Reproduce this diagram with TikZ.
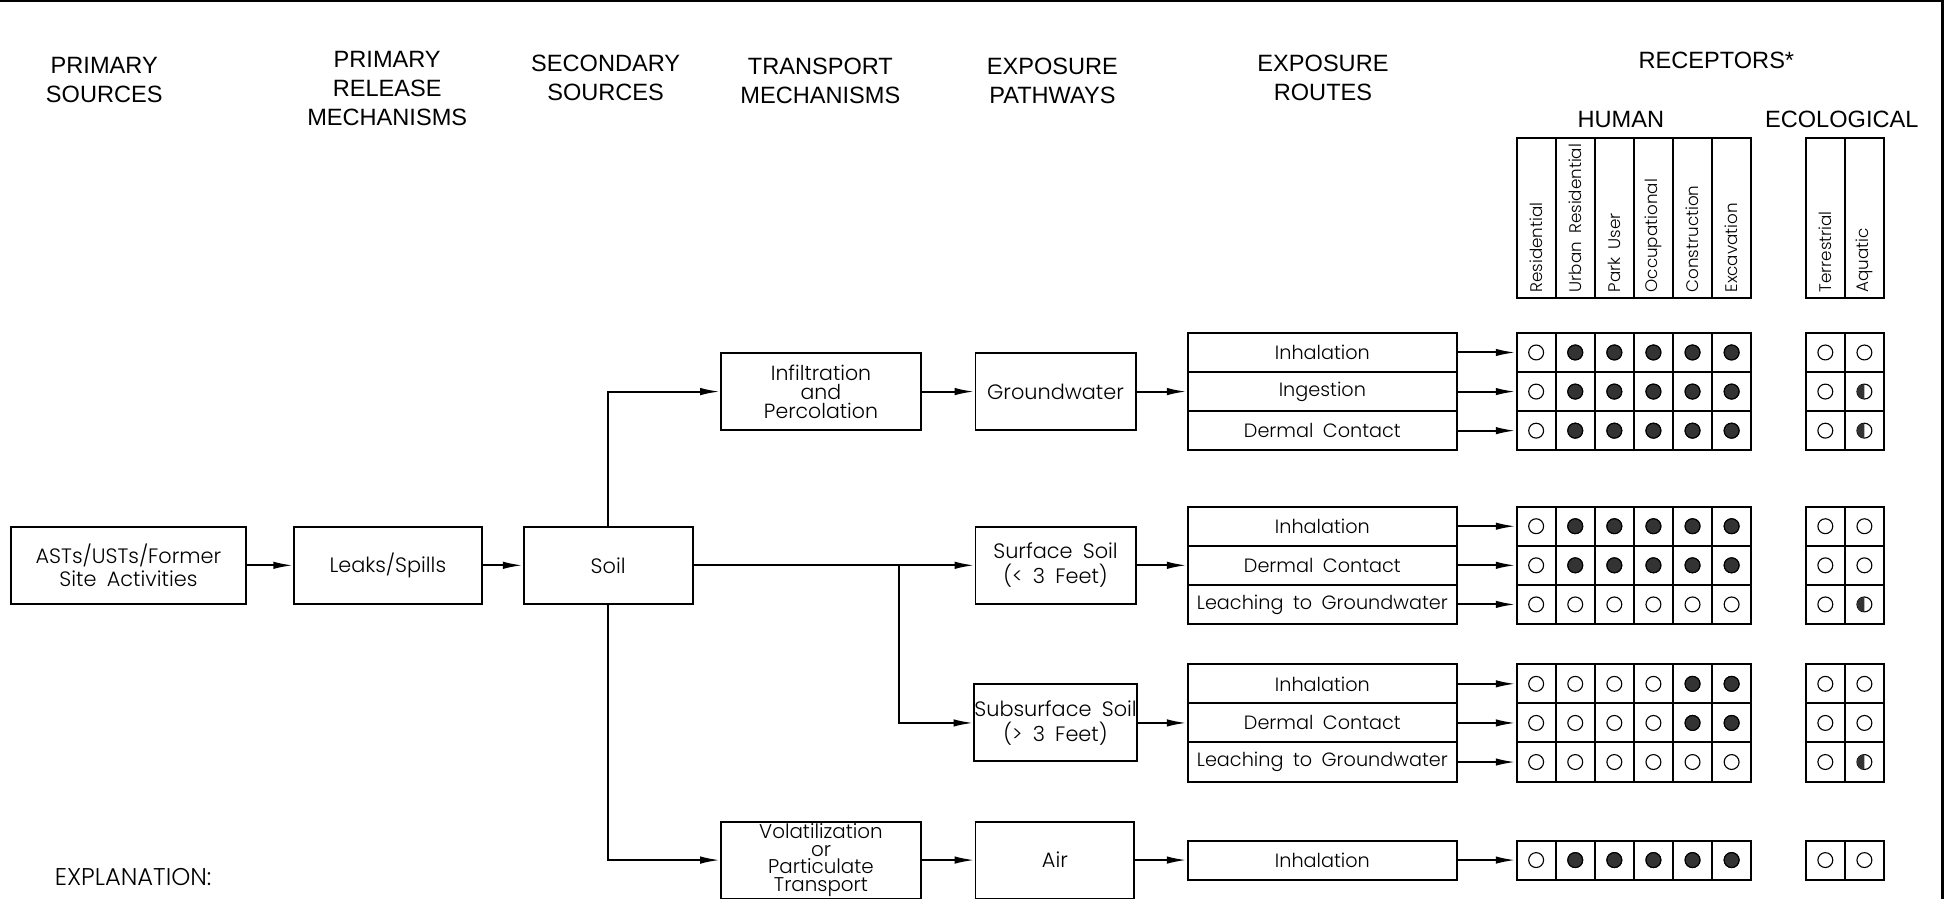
\documentclass[tikz,border=0pt]{standalone}
\usepackage{fontspec}
\setmainfont{Liberation Sans}
\newfontfamily\cadfont{Poppins Light}[WordSpace=1.8]
\usetikzlibrary{arrows.meta, positioning}
\tikzset{
  heading/.style = {align=center, inner sep=0pt, font=\fontsize{19}{23.5}\selectfont},
  box/.style     = {draw, line width=1.6pt, minimum height=62pt, align=center,
                    inner sep=0pt, font=\cadfont\fontsize{16.8}{18}\selectfont},
  route/.style   = {draw, line width=1.6pt, minimum width=217pt, minimum height=31.5pt,
                    inner sep=0pt, font=\cadfont\fontsize{15.5}{15.5}\selectfont},
  cell/.style    = {draw, line width=1.6pt, minimum width=31.5pt, minimum height=31.5pt,
                    inner sep=0pt},
  hcol/.style    = {draw, line width=1.6pt, minimum width=31.5pt, minimum height=129pt,
                    inner sep=0pt},
  vlabel/.style  = {rotate=90, anchor=west, inner sep=0pt,
                    font=\cadfont\fontsize{13.5}{13.5}\selectfont},
  arrow/.style   = {-{Latex[length=16pt, width=6pt]}, line width=1.6pt},
  circ/.style    = {line width=0.9pt},
  full/.style    = {circ, draw=black, fill=black!80},
  soilfont/.style = {font=\cadfont\fontsize{16.8}{20}\selectfont},
}

\begin{document}
\begin{tikzpicture}[x=1pt, y=1pt]
  \useasboundingbox (0,0) rectangle (1568,-724);
  % frame
  \draw[line width=2pt] (0,-1) -- (1565,-1) -- (1565,-724);

  % column headings
  \node[heading] (hps)  at (84,-64.5)   {PRIMARY\\SOURCES};
  \node[heading] (hprm) at (312,-71.5)  {PRIMARY\\RELEASE\\MECHANISMS};
  \node[heading] (hss)  at (488,-63)    {SECONDARY\\SOURCES};
  \node[heading] (htm)  at (661,-65.5)  {TRANSPORT\\MECHANISMS};
  \node[heading] (hep)  at (848,-65.5)  {EXPOSURE\\PATHWAYS};
  \node[heading] (her)  at (1066,-63)   {EXPOSURE\\ROUTES};
  \node[heading] (hrec) at (1383,-49)   {RECEPTORS*};
  \node[heading] (hhum) at (1306,-96)   {HUMAN};
  \node[heading] (heco) at (1484,-96)   {ECOLOGICAL};

  % receptor columns
  \foreach \c/\t in {1/Residential, 2/Urban Residential, 3/Park User, 4/Occupational,
                     5/Construction, 6/Excavation, 7/Terrestrial, 8/Aquatic} {
    \pgfmathsetmacro\cx{\c<7 ? 1222+31.5*(\c-0.5) : 1455+31.5*(\c-6.5)}
    \node[hcol] (hc\c) at (\cx,-175.5) {};
    \node[vlabel] at ([yshift=5pt]hc\c.south) {\t};
  }

  % sources and pathways
  \node[box, minimum width=189pt] (src)   at (103.5,-455.5) {ASTs/USTs/Former\\Site Activities};
  \node[box, minimum width=151pt] (leak)  at (312.5,-455.5) {Leaks/Spills};
  \node[box, minimum width=136pt] (soil)  at (490,-455.5)   {Soil};
  \node[box, minimum width=161pt, font=\cadfont\fontsize{16.5}{15.5}\selectfont]
        (infil) at (661.5,-315.5) {Infiltration\\and\\Percolation};
  \node[box, minimum width=129pt] (gw)    at (850.5,-315.5) {Groundwater};
  \node[box, soilfont, minimum width=129pt] (surf) at (850.5,-455.5) {Surface Soil\\(< 3 Feet)};
  \node[box, soilfont, minimum width=129pt] (subs) at (850.5,-582.5) {Subsurface Soil\\(> 3 Feet)};
  \node[box, minimum width=161pt, font=\cadfont\fontsize{16}{14}\selectfont]
        (vol)   at (661.5,-693)   {Volatilization\\or\\Particulate\\Transport};
  \node[box, minimum width=128pt] (air)   at (850,-693)     {Air};
  \coordinate (br) at (724,-455.5);

  % exposure routes and receptor grid
  \foreach \r/\y/\t in {1/284/Inhalation, 2/315.5/Ingestion, 3/347/Dermal Contact,
                        4/424/Inhalation, 5/455.5/Dermal Contact, 6/487/Leaching to Groundwater,
                        7/551/Inhalation, 8/582.5/Dermal Contact, 9/614/Leaching to Groundwater,
                        10/693/Inhalation} {
    \node[route] (r\r) at (1065.5,-\y) {\t};
    \foreach \c in {1,...,8} {
      \pgfmathsetmacro\cx{\c<7 ? 1222+31.5*(\c-0.5) : 1455+31.5*(\c-6.5)}
      \node[cell] (c\r-\c) at (\cx,-\y) {};
      \draw[circ] (c\r-\c) circle (6pt);
    }
    \draw[arrow] (r\r) -- (c\r-1);
  }
  \foreach \r in {1,2,3,4,5,10} \foreach \c in {2,...,6} \filldraw[full] (c\r-\c) circle (6pt);
  \foreach \r in {7,8} \foreach \c in {5,6} \filldraw[full] (c\r-\c) circle (6pt);
  \foreach \r in {2,3,6,9}
    \fill[black!80] ([yshift=6pt]c\r-8.center) arc[start angle=90, end angle=270, radius=6pt] -- cycle;

  % connectors
  \draw[arrow] (src) -- (leak);
  \draw[arrow] (leak) -- (soil);
  \draw[arrow] (soil.north) |- (infil);
  \draw[arrow] (infil) -- (gw);
  \draw[arrow] (gw) -- (r2.west);
  \draw[arrow] (soil) -- (surf);
  \draw[arrow] (br) |- (subs);
  \draw[arrow] (surf) -- (r5.west);
  \draw[arrow] (subs) -- (r8.west);
  \draw[arrow] (soil.south) |- (vol);
  \draw[arrow] (vol) -- (air);
  \draw[arrow] (air) -- (r10);

  \node[anchor=west, inner sep=0pt, font=\cadfont\fontsize{19.5}{19.5}\selectfont]
        (expl) at (44,-707) {EXPLANATION:};
\end{tikzpicture}
\end{document}
